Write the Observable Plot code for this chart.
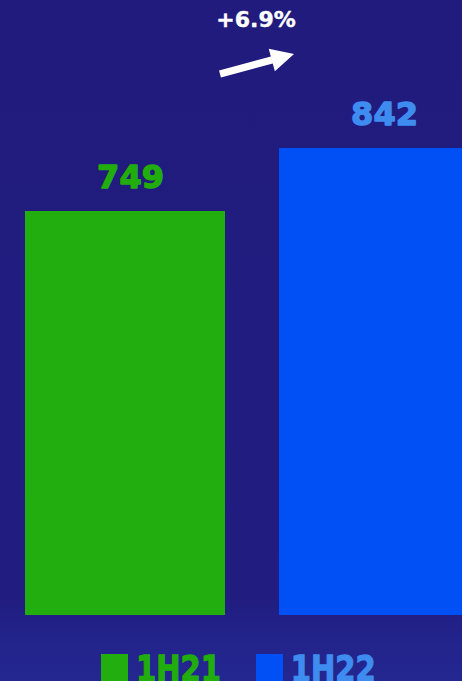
<!DOCTYPE html>
<html>
<head>
<meta charset="utf-8">
<script src="https://cdn.jsdelivr.net/npm/d3@7"></script>
<script src="https://cdn.jsdelivr.net/npm/@observablehq/plot@0.6"></script>
<style>
  html, body { margin: 0; padding: 0; }
  body {
    width: 462px; height: 681px; overflow: hidden;
    background: linear-gradient(to bottom, #211b7e 0px, #211c7f 595px, #22238a 635px, #242790 681px);
    font-family: "DejaVu Sans", sans-serif;
  }
  #chart { width: 462px; overflow: hidden; }
  .legend { display: flex; align-items: flex-start; padding-top: 14px; padding-left: 101px; }
  .legend .sw { width: 27px; height: 27px; flex: none; }
  .legend .lb { font-weight: bold; font-size: 29px; line-height: 1; margin-top: -3px;
    -webkit-text-stroke: 1px currentColor; transform: scaleY(1.25); transform-origin: 0 0; }
</style>
</head>
<body>
<div id="chart"></div>
<div class="legend" id="legend"></div>
<script>
// ---- data ----
const periods = ["1H21", "1H22"];
const values = [749, 842];
const growthLabel = "+6.9%";

// ---- styles ----
const barColors = ["#21ae0e", "#0050f5"];
const labelColors = ["#22ad0e", "#3f8cf0"];

const data = periods.map((p, i) => ({period: p, value: values[i]}));

// growth arrow drawn from the chart's own scales (between the two bars)
function growthArrow(index, scales) {
  const x = scales.x, y = scales.y, bw = x.bandwidth();
  const tx = x(periods[0]) + bw - 5, ty = y(951.2);   // tail, just right of the first bar
  const px = x(periods[1]) + 15, py = y(980.8);       // tip, just inside the second bar
  const L = Math.hypot(px - tx, py - ty);
  const ux = (px - tx) / L, uy = (py - ty) / L;       // direction
  const nx = -uy, ny = ux;                            // normal
  const headLen = 23, headHalf = 11.7, shaftHalf = 3.6;
  const bx = px - ux * headLen, by = py - uy * headLen;
  const pts = [
    [tx + nx * shaftHalf, ty + ny * shaftHalf],
    [bx + nx * shaftHalf, by + ny * shaftHalf],
    [bx + nx * headHalf, by + ny * headHalf],
    [px, py],
    [bx - nx * headHalf, by - ny * headHalf],
    [bx - nx * shaftHalf, by - ny * shaftHalf],
    [tx - nx * shaftHalf, ty - ny * shaftHalf]
  ];
  const g = d3.create("svg:g");
  g.append("path").attr("d", "M" + pts.map(p => p.join(",")).join("L") + "Z").attr("fill", "white");
  return g.node();
}

const chart = Plot.plot({
  width: 462,
  height: 640,
  marginTop: 0, marginRight: 0, marginBottom: 0, marginLeft: 0,
  style: {background: "transparent", overflow: "hidden"},
  x: {type: "band", domain: periods, range: [25, 479], paddingInner: 0.2126, paddingOuter: 0, axis: null},
  y: {domain: [152.6, 1060.5], range: [615, 0], clamp: true, axis: null},
  color: {domain: periods, range: barColors},
  marks: [
    Plot.barY(data, {x: "period", y: "value", fill: "period"}),
    ...data.map((d, i) => Plot.text([d], {
      x: "period", y: "value", text: d => String(d.value),
      fill: labelColors[i], stroke: labelColors[i], strokeWidth: 1.4,
      fontFamily: "DejaVu Sans", fontWeight: "bold", fontSize: 32,
      lineAnchor: "middle", dx: 5, dy: -34
    })),
    growthArrow,
    Plot.text([growthLabel], {
      frameAnchor: "top", text: d => d, fill: "white", stroke: "white", strokeWidth: 0.4,
      fontFamily: "DejaVu Sans", fontWeight: "bold", fontSize: 22,
      lineAnchor: "middle", dx: 24.5, dy: 19
    })
  ]
});
document.getElementById("chart").appendChild(chart);

const legend = document.getElementById("legend");
periods.forEach((p, i) => {
  const sw = document.createElement("div");
  sw.className = "sw";
  sw.style.background = barColors[i];
  sw.style.marginRight = "8px";
  const lb = document.createElement("div");
  lb.className = "lb";
  lb.textContent = p;
  lb.style.color = labelColors[i];
  if (i === 0) lb.style.marginRight = "35px";
  legend.appendChild(sw);
  legend.appendChild(lb);
});
</script>
</body>
</html>
